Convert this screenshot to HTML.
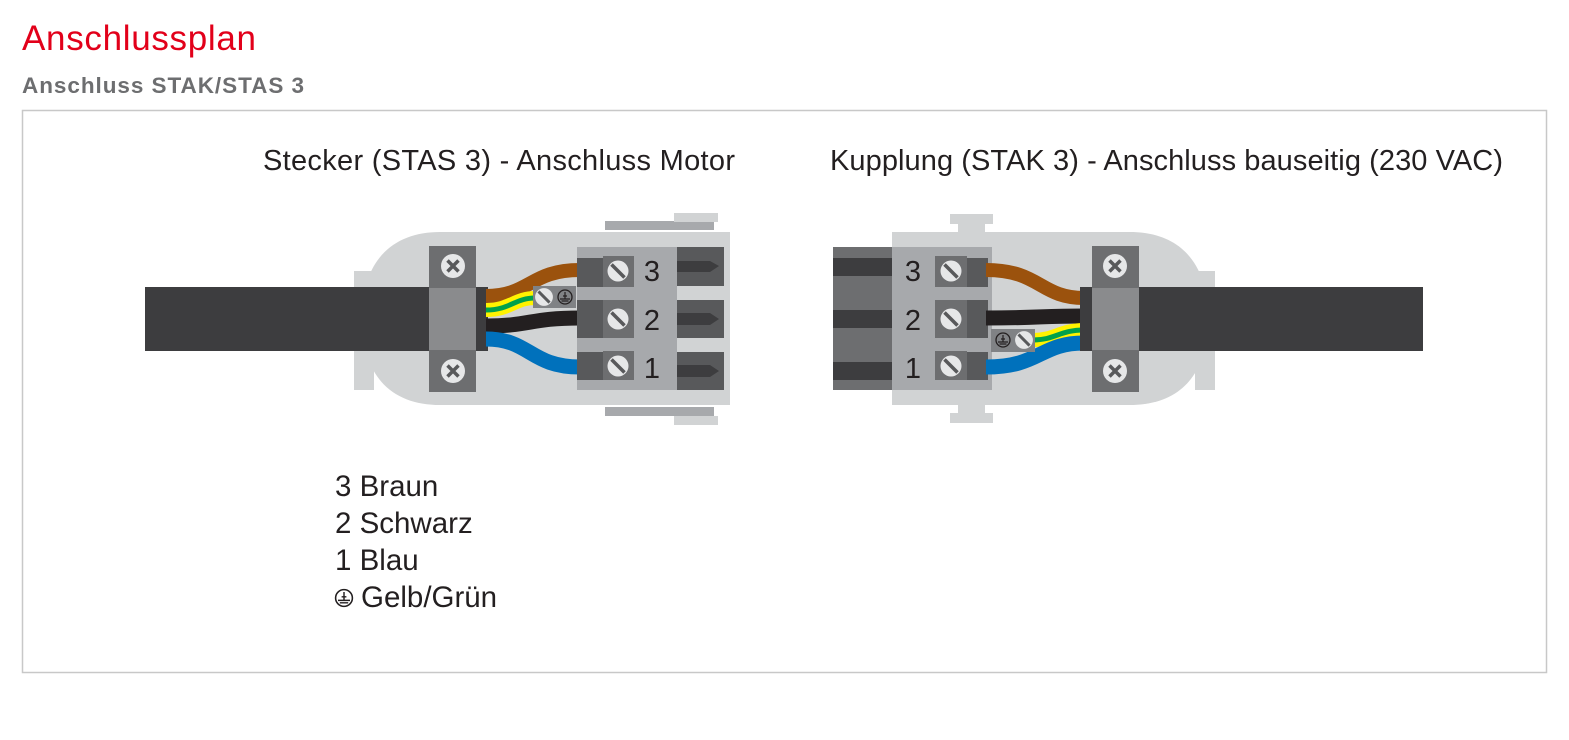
<!DOCTYPE html>
<html><head><meta charset="utf-8"><style>
html,body{margin:0;padding:0;background:#fff;}
body{width:1569px;height:735px;overflow:hidden;font-family:"Liberation Sans",Arial,sans-serif;}
</style></head><body>
<svg width="1569" height="735" viewBox="0 0 1569 735" xmlns="http://www.w3.org/2000/svg" font-family="Liberation Sans, Arial, sans-serif">
<defs>
<g id="xs"><circle r="12" fill="#e6e7e8"/><path d="M-5.5,-5.5 L5.5,5.5 M5.5,-5.5 L-5.5,5.5" stroke="#58595b" stroke-width="3.5"/></g>
<g id="ss"><circle r="10.5" fill="#e6e7e8"/><path d="M-6.5,-6.5 L6.5,6.5" stroke="#58595b" stroke-width="3.5"/></g>
<g id="pe"><circle r="7" fill="none" stroke="#231f20" stroke-width="1.3"/><path d="M0,-5 V2 M-5,2 H5 M-3.5,4 H3.5 M-2,-1 H2" stroke="#231f20" stroke-width="1.2"/></g>
</defs>
<text x="22" y="50" font-size="35" fill="#e2001a" textLength="234">Anschlussplan</text>
<text x="22" y="93" font-size="22.5" font-weight="bold" fill="#6d6e70" textLength="282">Anschluss STAK/STAS 3</text>
<rect x="22.5" y="110.5" width="1524" height="562" fill="#fff" stroke="#c8c8c8" stroke-width="1.5"/>
<text x="263" y="170" font-size="29" fill="#231f20" textLength="472">Stecker (STAS 3) - Anschluss Motor</text>
<text x="830" y="170" font-size="29" fill="#231f20" textLength="673">Kupplung (STAK 3) - Anschluss bauseitig (230 VAC)</text>

<!-- LEFT connector -->
<rect x="605" y="221" width="109" height="9" fill="#a7a9ac"/>
<rect x="674" y="213" width="44" height="9" fill="#d1d3d4"/>
<rect x="605" y="407" width="109" height="9" fill="#a7a9ac"/>
<rect x="674" y="416" width="44" height="9" fill="#d1d3d4"/>
<rect x="354" y="271" width="20" height="119" fill="#d1d3d4"/>
<path d="M440,232 H730 V405 H440 C395,405 362,380 362,318 C362,258 395,232 440,232 Z" fill="#d1d3d4"/>
<rect x="145" y="287" width="290" height="64" fill="#3d3d3f"/>
<rect x="429" y="246" width="47" height="146" fill="#6d6e70"/>
<rect x="429" y="288" width="47" height="62" fill="#8a8b8d"/>
<rect x="476" y="287" width="12" height="64" fill="#3d3d3f"/>
<use href="#xs" x="453" y="266"/><use href="#xs" x="453" y="371"/>
<path d="M486,296 C530,296 530,270 580,270" stroke="#9b520d" stroke-width="14" fill="none"/>
<path d="M486,310 C510,310 515,298 535,298" stroke="#fff200" stroke-width="14" fill="none"/>
<path d="M486,310 C510,310 515,298 535,298" stroke="#00a14b" stroke-width="5" fill="none"/>
<path d="M486,326 C530,326 530,318 580,318" stroke="#231f20" stroke-width="15" fill="none"/>
<path d="M486,339 C530,339 530,367 580,367" stroke="#0071bc" stroke-width="15" fill="none"/>
<rect x="533" y="286" width="43" height="22" fill="#808285"/>
<use href="#ss" x="544" y="297" transform="translate(544,297) scale(0.85) translate(-544,-297)"/>
<use href="#pe" x="565" y="297"/>
<rect x="577" y="247" width="100" height="143" fill="#a7a9ac"/>
<rect x="577" y="258" width="26" height="29" fill="#58595b"/><rect x="603" y="256" width="31" height="31" fill="#6d6e70"/>
<rect x="577" y="300" width="26" height="38" fill="#58595b"/><rect x="603" y="300" width="31" height="38" fill="#6d6e70"/>
<rect x="577" y="352" width="26" height="28" fill="#58595b"/><rect x="603" y="351" width="31" height="29" fill="#6d6e70"/>
<use href="#ss" x="618" y="271"/><use href="#ss" x="618" y="319"/><use href="#ss" x="618" y="366"/>
<text x="652" y="281" font-size="29" fill="#231f20" text-anchor="middle">3</text>
<text x="652" y="330" font-size="29" fill="#231f20" text-anchor="middle">2</text>
<text x="652" y="378" font-size="29" fill="#231f20" text-anchor="middle">1</text>
<rect x="677" y="247" width="47" height="39" fill="#58595b"/>
<rect x="677" y="300" width="47" height="38" fill="#58595b"/>
<rect x="677" y="352" width="47" height="38" fill="#58595b"/>
<path d="M677,261 H710 L719,266 L710,272 H677Z M677,313 H710 L719,319 L710,325 H677Z M677,365 H710 L719,371 L710,377 H677Z" fill="#3d3d3f"/>

<!-- RIGHT connector -->
<rect x="950" y="214" width="43" height="10" fill="#d1d3d4"/><rect x="958" y="214" width="27" height="20" fill="#d1d3d4"/>
<rect x="950" y="413" width="43" height="10" fill="#d1d3d4"/><rect x="958" y="403" width="27" height="20" fill="#d1d3d4"/>
<rect x="1195" y="271" width="20" height="119" fill="#d1d3d4"/>
<path d="M892,232 H1130 C1175,232 1208,258 1208,318 C1208,380 1175,405 1130,405 H892 Z" fill="#d1d3d4"/>
<rect x="833" y="247" width="60" height="143" fill="#6d6e70"/>
<rect x="833" y="258" width="60" height="18" fill="#3d3d3f"/>
<rect x="833" y="310" width="60" height="18" fill="#3d3d3f"/>
<rect x="833" y="362" width="60" height="18" fill="#3d3d3f"/>
<rect x="892" y="247" width="100" height="143" fill="#a7a9ac"/>
<rect x="935" y="256" width="32" height="31" fill="#6d6e70"/><rect x="967" y="258" width="21" height="29" fill="#58595b"/>
<rect x="935" y="300" width="32" height="38" fill="#6d6e70"/><rect x="967" y="300" width="21" height="38" fill="#58595b"/>
<rect x="935" y="351" width="32" height="29" fill="#6d6e70"/><rect x="967" y="352" width="21" height="28" fill="#58595b"/>
<use href="#ss" x="951" y="271"/><use href="#ss" x="951" y="319"/><use href="#ss" x="951" y="366"/>
<text x="913" y="281" font-size="29" fill="#231f20" text-anchor="middle">3</text>
<text x="913" y="330" font-size="29" fill="#231f20" text-anchor="middle">2</text>
<text x="913" y="378" font-size="29" fill="#231f20" text-anchor="middle">1</text>
<path d="M986,270 C1040,270 1040,298 1084,298" stroke="#9b520d" stroke-width="14" fill="none"/>
<path d="M986,318 C1040,318 1040,316 1084,316" stroke="#231f20" stroke-width="15" fill="none"/>
<path d="M1033,340 C1055,340 1060,330 1084,330" stroke="#fff200" stroke-width="14" fill="none"/>
<path d="M1033,340 C1055,340 1060,330 1084,330" stroke="#00a14b" stroke-width="5" fill="none"/>
<path d="M986,367 C1040,367 1040,343 1084,343" stroke="#0071bc" stroke-width="15" fill="none"/>
<rect x="991" y="329" width="44" height="23" fill="#808285"/>
<use href="#pe" x="1003" y="340"/>
<use href="#ss" x="1024" y="340" transform="translate(1024,340) scale(0.85) translate(-1024,-340)"/>
<rect x="1135" y="287" width="288" height="64" fill="#3d3d3f"/>
<rect x="1092" y="246" width="47" height="146" fill="#6d6e70"/>
<rect x="1092" y="288" width="47" height="62" fill="#8a8b8d"/>
<rect x="1080" y="287" width="12" height="64" fill="#3d3d3f"/>
<use href="#xs" x="1115" y="266"/><use href="#xs" x="1115" y="371"/>

<!-- legend -->
<g font-size="29.5" fill="#231f20">
<text x="335" y="496">3 Braun</text>
<text x="335" y="533">2 Schwarz</text>
<text x="335" y="570">1 Blau</text>
<text x="361" y="607">Gelb/Grün</text>
</g>
<g transform="translate(344,598) scale(1.2)"><use href="#pe"/></g>
</svg>
</body></html>
